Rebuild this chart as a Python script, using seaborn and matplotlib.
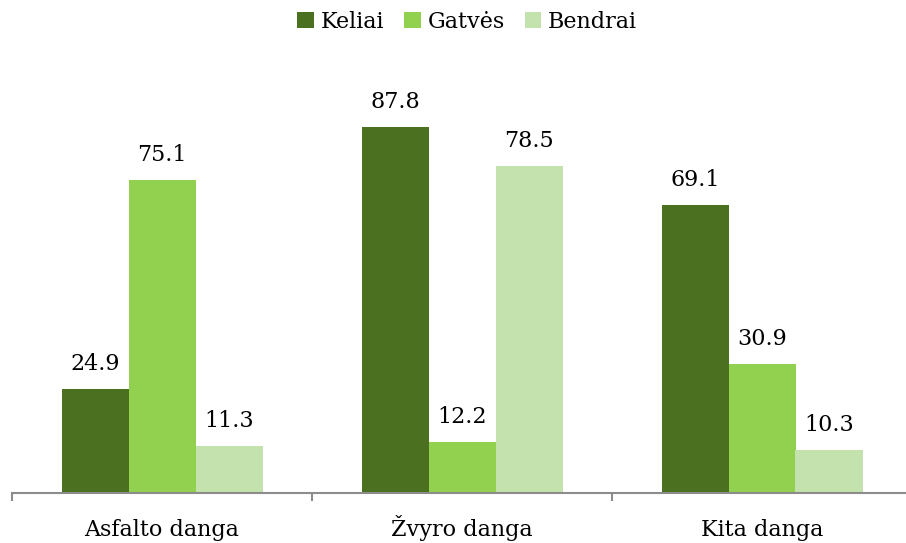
import pandas as pd
import seaborn as sns
import matplotlib.pyplot as plt
from matplotlib.ticker import FixedLocator

# data
categories = ['Asfalto danga', 'Žvyro danga', 'Kita danga']
series = ['Keliai', 'Gatvės', 'Bendrai']
keliai = [24.9, 87.8, 69.1]
gatves = [75.1, 12.2, 30.9]
bendrai = [11.3, 78.5, 10.3]
colors = ['#4B701F', '#92D050', '#C4E2AD']

df = pd.DataFrame({
    'danga': categories * 3,
    'serija': [s for s in series for _ in categories],
    'reiksme': keliai + gatves + bendrai,
})

sns.set_style('white')
plt.rcParams['font.family'] = ['DejaVu Serif']
plt.rcParams['text.color'] = 'black'
plt.rcParams['xtick.color'] = 'black'

fig = plt.figure(figsize=(9.06, 5.43), dpi=100)
ax = fig.add_axes([12 / 906, 50 / 543, 900 / 906, 417 / 543])

sns.barplot(data=df, x='danga', y='reiksme', hue='serija', hue_order=series,
            palette=colors, width=0.67, saturation=1, linewidth=0, ax=ax, legend=True)

for cont in ax.containers:
    ax.bar_label(cont, fmt='%.1f', padding=10, fontsize=16, color='black')

ax.set_xlim(-0.5, 2.5)
ax.set_ylim(0, 100)
ax.set_xlabel('')
ax.set_ylabel('')
ax.set_yticks([])
for side in ['top', 'right', 'left']:
    ax.spines[side].set_visible(False)
ax.spines['bottom'].set_color('#8C8C8C')
ax.spines['bottom'].set_linewidth(1.5)
ax.tick_params(axis='x', which='major', length=0, labelsize=16, pad=31, labelcolor='black')
for lab in ax.get_xticklabels():
    lab.set_verticalalignment('baseline')
ax.xaxis.set_minor_locator(FixedLocator([-0.5, 0.5, 1.5, 2.5]))
ax.tick_params(axis='x', which='minor', bottom=True, length=6, width=1.5,
               color='#8C8C8C', direction='out')

handles, labels = ax.get_legend_handles_labels()
ax.get_legend().remove()
fig.legend(handles, labels, loc='center', bbox_to_anchor=(467 / 906, 1 - 22 / 543), ncol=3,
           frameon=False, fontsize=16, handlelength=0.75, handleheight=0.75,
           handletextpad=0.3, columnspacing=0.9)

fig.savefig('out.png', dpi=100)
